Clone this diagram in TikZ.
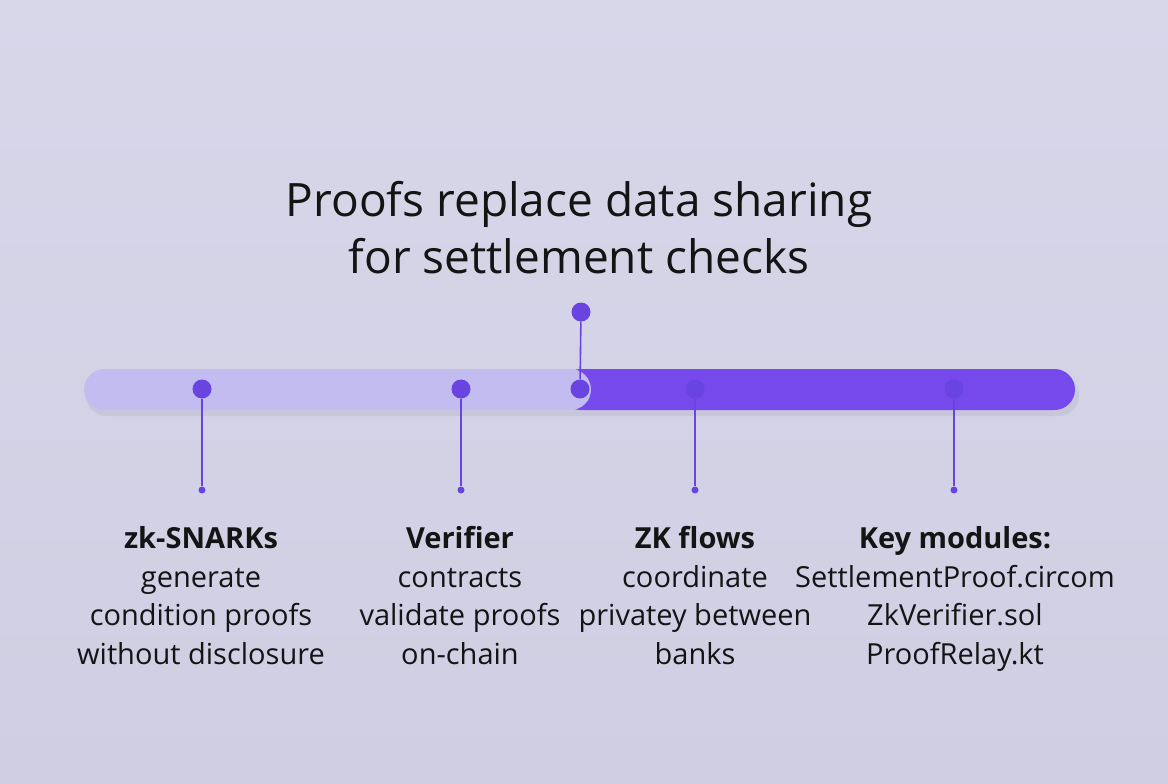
\documentclass[tikz,border=0pt]{standalone}
\usepackage{fontspec}
\setmainfont{Open Sans}
\usetikzlibrary{positioning}
\definecolor{bgc}{HTML}{CFCEE2}
\definecolor{bgtop}{HTML}{D8D7EA}
\definecolor{lightbar}{HTML}{C3BCF0}
\definecolor{darkbar}{HTML}{7549EC}
\definecolor{dotc}{HTML}{6A44E0}
\definecolor{txt}{HTML}{141414}
\tikzset{
  bigdot/.style={circle,fill=dotc,inner sep=0pt,minimum size=19pt},
  smalldot/.style={circle,fill=dotc,inner sep=0pt,minimum size=7pt},
  stem/.style={draw=dotc,line width=1.6pt},
  head/.style={font=\fontsize{29}{33}\selectfont\bfseries,text=txt,anchor=base},
  body/.style={font=\fontsize{29}{38.5}\selectfont,text=txt,align=center,anchor=north},
}
\begin{document}
\begin{tikzpicture}[x=1pt,y=-1pt]
\useasboundingbox (0,0) rectangle (1168,784);
\shade[top color=bgtop,bottom color=bgc] (0,0) rectangle (1168,784);
% title
\node[font=\fontsize{46}{57}\selectfont,text=txt,align=center] (title) at (579,228) {Proofs replace data sharing\\for settlement checks};
% shadows
\fill[black,opacity=0.05,rounded corners=20.5pt] (86,374) rectangle (1079,416);
% dark bar
\fill[darkbar,rounded corners=20.5pt] (560,369) rectangle (1075,410);
% light bar
\fill[lightbar,rounded corners=20.5pt] (84,369) rectangle (591,410);
% dots on bar
\node[bigdot] (d1) at (202,389) {};
\node[bigdot] (d2) at (461,389) {};
\node[bigdot] (d3) at (580,389) {};
\node[bigdot] (d4) at (695,389) {};
\node[bigdot] (d5) at (954,389) {};
\node[bigdot] (top) at (581,312) {};
\draw[stem] (top) -- (d3);
% end dots
\node[smalldot] (e1) at (202,490) {};
\node[smalldot] (e2) at (461,490) {};
\node[smalldot] (e4) at (695,490) {};
\node[smalldot] (e5) at (954,490) {};
\draw[stem] (d1) -- (e1);
\draw[stem] (d2) -- (e2);
\draw[stem] (d4) -- (e4);
\draw[stem] (d5) -- (e5);
% labels
\node[head] (h1) at (201,548) {zk-SNARKs};
\node[head] (h2) at (460,548) {Verifier};
\node[head] (h4) at (695,548) {ZK flows};
\node[head] (h5) at (955,548) {Key modules:};
\node[body] (b1) at (201,557) {\strut generate\\condition proofs\\without disclosure};
\node[body] (b2) at (460,557) {\strut contracts\\validate proofs\\on-chain};
\node[body] (b4) at (695,557) {\strut coordinate\\privatey between\\banks};
\node[body] (b5) at (955,557) {\strut SettlementProof.circom\\ZkVerifier.sol\\ProofRelay.kt};
\end{tikzpicture}
\end{document}
